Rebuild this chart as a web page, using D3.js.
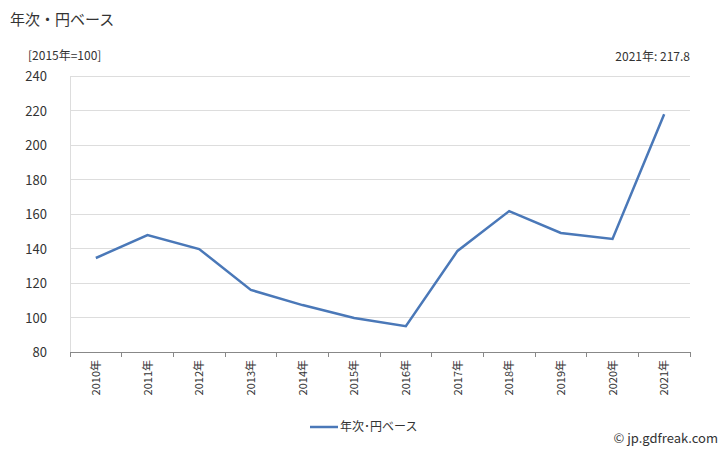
<!DOCTYPE html>
<html><head><meta charset="utf-8">
<script src="https://cdn.jsdelivr.net/npm/d3@7"></script>
<style>body{margin:0;background:#fff;font-family:"Noto Sans CJK JP","Noto Sans",sans-serif;}</style>
</head><body><svg id="c" width="728" height="450"></svg>
<script>
const categories=["2010年","2011年","2012年","2013年","2014年","2015年","2016年","2017年","2018年","2019年","2020年","2021年"];
const values=[134.5,147.8,139.7,116.0,107.2,99.7,95.0,138.6,161.7,149.0,145.5,217.8];
const yTicks=[80,100,120,140,160,180,200,220,240];
const svg=d3.select("#c");
const L=70,R=690,T=76,B=352;
const x=d3.scaleBand().domain(categories).range([L,R]);
const y=d3.scaleLinear().domain([80,240]).range([B,T]);
const f="'Noto Sans CJK JP',sans-serif";
svg.append("g").selectAll("line").data(yTicks).join("line")
 .attr("x1",L).attr("x2",R).attr("y1",d=>y(d)).attr("y2",d=>y(d))
 .attr("stroke",d=>d===80?"#888":"#ddd").attr("shape-rendering","crispEdges");
svg.append("line").attr("x1",L).attr("x2",L).attr("y1",T).attr("y2",B).attr("stroke","#ddd").attr("shape-rendering","crispEdges");
svg.append("g").selectAll("text").data(yTicks).join("text")
 .attr("x",47).attr("y",d=>y(d)+5).attr("text-anchor","end").attr("font-size",13).attr("font-family",f).attr("fill","#333").text(d=>d);
const edges=categories.map(c=>x(c)).concat([R]);
svg.append("g").selectAll("line").data(edges).join("line")
 .attr("x1",d=>d).attr("x2",d=>d).attr("y1",B).attr("y2",B+5).attr("stroke","#888").attr("shape-rendering","crispEdges");
svg.append("g").selectAll("text").data(categories).join("text")
 .attr("transform",d=>`translate(${x(d)+x.bandwidth()/2+4},${B+8}) rotate(-90)`)
 .attr("text-anchor","end").attr("font-size",11).attr("font-family",f).attr("fill","#333").text(d=>d);
const line=d3.line().x((d,i)=>x(categories[i])+x.bandwidth()/2).y(d=>y(d));
svg.append("path").datum(values).attr("d",line).attr("fill","none").attr("stroke","#4a78b8").attr("stroke-width",2.5);
svg.append("text").attr("x",10).attr("y",25).attr("font-size",15).attr("font-family",f).attr("fill","#333").text("年次・円ベース");
svg.append("text").attr("x",28).attr("y",60).attr("font-size",12).attr("font-family",f).attr("fill","#333").text("[2015年=100]");
svg.append("text").attr("x",690).attr("y",61).attr("text-anchor","end").attr("font-size",12).attr("font-family",f).attr("fill","#333").text("2021年: 217.8");
svg.append("line").attr("x1",310).attr("x2",338).attr("y1",427).attr("y2",427).attr("stroke","#4a78b8").attr("stroke-width",2.5);
svg.append("text").attr("x",340).attr("y",431).attr("font-size",12).attr("font-family",f).attr("fill","#333").text("年次･円ベース");
svg.append("text").attr("x",718).attr("y",443).attr("text-anchor","end").attr("font-size",13).attr("font-family",f).attr("fill","#333").text("© jp.gdfreak.com");
</script></body></html>
